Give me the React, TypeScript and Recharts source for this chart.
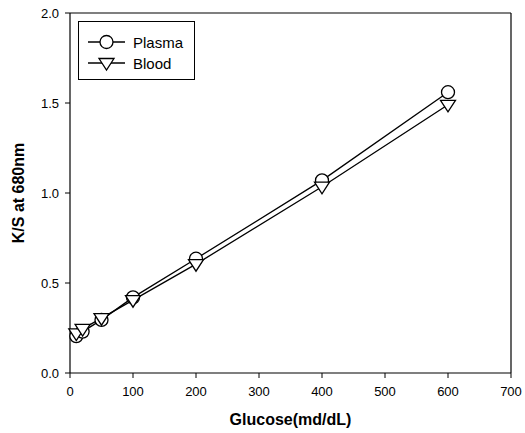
import React from "react";
import { LineChart, Line, XAxis, YAxis, ReferenceLine } from "recharts";

const glucose = [10, 20, 50, 100, 200, 400, 600];
const plasma = [0.205, 0.23, 0.295, 0.42, 0.635, 1.07, 1.56];
const blood = [0.22, 0.245, 0.305, 0.405, 0.605, 1.035, 1.49];
const xTicks = [0, 100, 200, 300, 400, 500, 600, 700];
const yTicks = [0, 0.5, 1.0, 1.5, 2.0];

const data = glucose.map((g, i) => ({ g, plasma: plasma[i], blood: blood[i] }));

const CircleDot = (props: any) => {
  const { cx, cy } = props;
  if (cx == null || cy == null) return null;
  return <circle cx={cx} cy={cy} r={6.5} fill="#fff" stroke="#000" strokeWidth={1.3} />;
};

const TriDot = (props: any) => {
  const { cx, cy } = props;
  if (cx == null || cy == null) return null;
  const s = 7.5;
  const pts = `${cx - s},${cy - s * 0.6} ${cx + s},${cy - s * 0.6} ${cx},${cy + s * 0.95}`;
  return <polygon points={pts} fill="#fff" stroke="#000" strokeWidth={1.3} />;
};

const font = "'Liberation Sans', Arial, sans-serif";

export default function App() {
  return (
    <div style={{ position: "absolute", left: 0, top: 0, width: 525, height: 433, background: "#fff" }}>
      <LineChart
        width={525}
        height={433}
        data={data}
        margin={{ top: 13, right: 14, bottom: 0, left: 0 }}
      >
        <XAxis
          dataKey="g"
          type="number"
          domain={[0, 700]}
          ticks={xTicks}
          tickSize={5}
          stroke="#000"
          tick={{ fill: "#000", fontSize: 13, fontFamily: font }}
          tickLine={{ stroke: "#000" }}
          axisLine={{ stroke: "#000", strokeWidth: 1.2 }}
          tickMargin={9}
          label={{
            value: "Glucose(md/dL)",
            position: "insideBottom",
            offset: 8,
            style: { fontSize: 16, fontWeight: "bold", fontFamily: font, fill: "#000" },
          }}
          height={60}
        />
        <YAxis
          type="number"
          domain={[0, 2]}
          ticks={yTicks}
          tickFormatter={(v: number) => v.toFixed(1)}
          tickSize={5}
          stroke="#000"
          width={70}
          tick={{ fill: "#000", fontSize: 13, fontFamily: font }}
          axisLine={{ stroke: "#000", strokeWidth: 1.2 }}
          tickMargin={6}
          label={{
            value: "K/S at 680nm",
            angle: -90,
            position: "insideLeft",
            offset: 18,
            style: { fontSize: 16, fontWeight: "bold", fontFamily: font, fill: "#000", textAnchor: "middle" },
          }}
        />
        <ReferenceLine x={700} stroke="#000" strokeWidth={1.2} />
        <ReferenceLine y={2} stroke="#000" strokeWidth={1.2} />
        <Line
          dataKey="plasma"
          stroke="#000"
          strokeWidth={1.3}
          dot={<CircleDot />}
          activeDot={false}
          isAnimationActive={false}
        />
        <Line
          dataKey="blood"
          stroke="#000"
          strokeWidth={1.3}
          dot={<TriDot />}
          activeDot={false}
          isAnimationActive={false}
        />
      </LineChart>
      <div
        style={{
          position: "absolute",
          left: 78,
          top: 21,
          width: 117,
          height: 59,
          border: "1px solid #000",
          fontFamily: font,
          fontSize: 14,
          boxSizing: "border-box",
        }}
      >
        <svg width={117} height={59} style={{ position: "absolute", left: 0, top: 0 }}>
          <line x1={9} x2={46} y1={20} y2={20} stroke="#000" strokeWidth={1.3} />
          <circle cx={27.5} cy={20} r={6.5} fill="#fff" stroke="#000" strokeWidth={1.3} />
          <line x1={9} x2={46} y1={41} y2={41} stroke="#000" strokeWidth={1.3} />
          <polygon points="20,36.5 35,36.5 27.5,48" fill="#fff" stroke="#000" strokeWidth={1.3} />
          <text x={54} y={26} fontSize={15} fontFamily={font} fill="#000">Plasma</text>
          <text x={54} y={47} fontSize={15} fontFamily={font} fill="#000">Blood</text>
        </svg>
      </div>
    </div>
  );
}
